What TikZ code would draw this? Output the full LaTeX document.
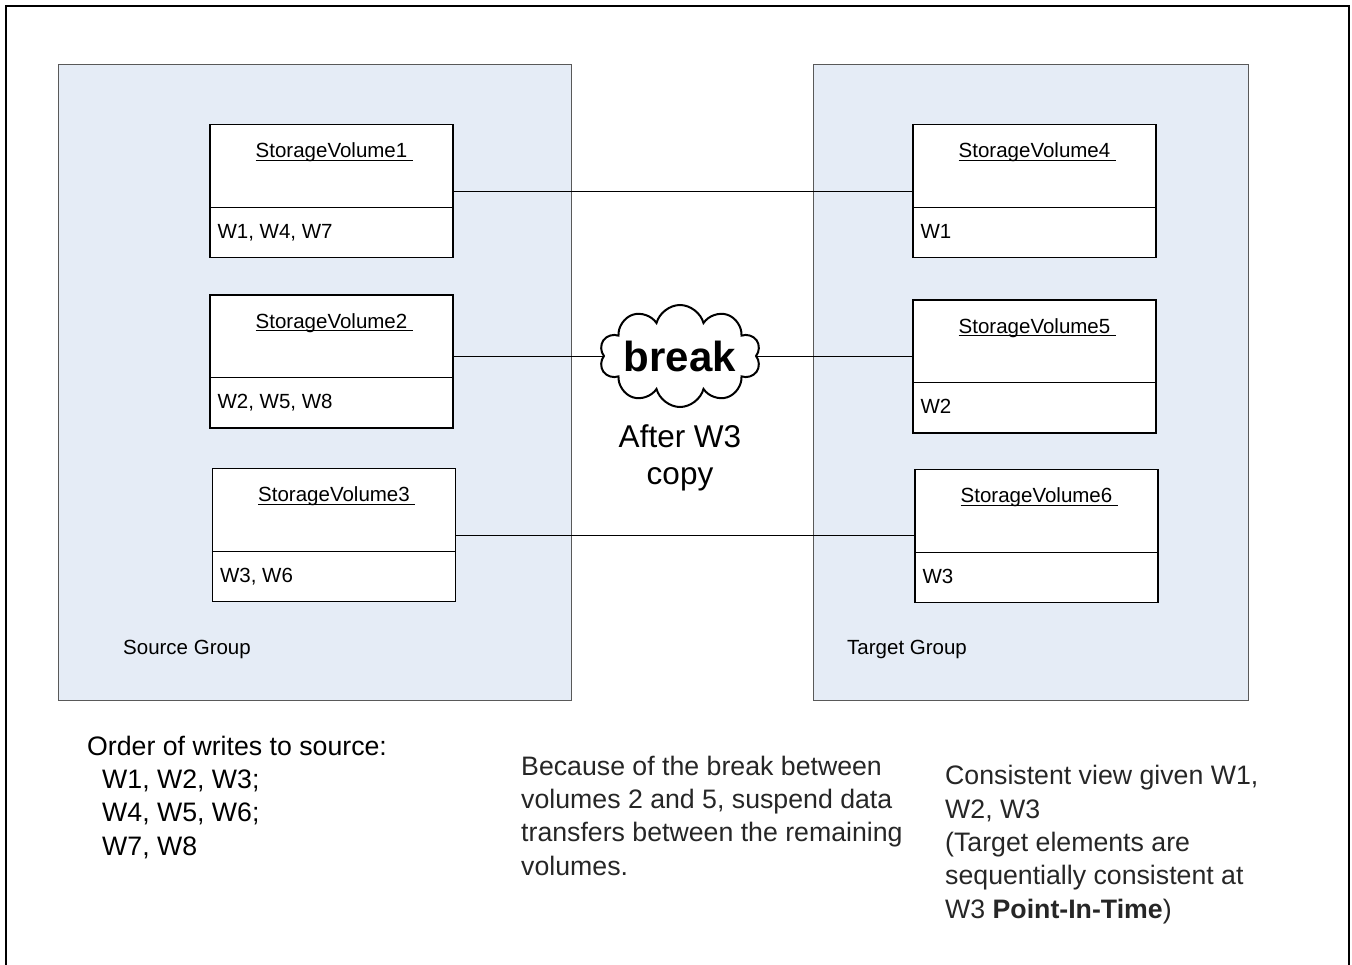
\documentclass[tikz,border=0pt]{standalone}
\usepackage{fontspec}
\setmainfont{Liberation Sans}
\usetikzlibrary{shapes.symbols,calc}

\newlength\ulwd
\newcommand\ulname[1]{\settowidth\ulwd{#1\ }\rlap{\rule[-2.8pt]{\ulwd}{1pt}}#1\ }

\definecolor{groupfill}{RGB}{229,236,246}
\definecolor{notegray}{RGB}{38,38,38}

\tikzset{
  group/.style={draw=black!65, fill=groupfill, line width=1pt, minimum height=636, inner sep=0},
  vol/.style={draw, fill=white, line width=1.2pt, minimum width=243, minimum height=133, inner sep=0},
  small/.style={font=\fontsize{20.5}{24}\selectfont, inner sep=0},
  note/.style={font=\fontsize{26.7}{33.3}\selectfont, align=left, inner sep=0, anchor=base west},
}

\begin{document}
\begin{tikzpicture}[x=1pt, y=-1pt]
  \useasboundingbox (0,0) rectangle (1352,964);
  % frame
  \draw[line width=2.5pt] (6,970) -- (6,6) -- (1349,6) -- (1349,970);
  % groups
  \node[group, minimum width=513] (src) at (314.5,382) {};
  \node[group, minimum width=435] (tgt) at (1030.5,382) {};
  \node[small, anchor=base west] (srcl) at (123,654) {Source Group};
  \node[small, anchor=base west] (tgtl) at (847,654) {Target Group};
  % volumes
  \foreach \n/\x/\y/\w in {1/331.5/191/{W1, W4, W7}, 2/331.5/361.5/{W2, W5, W8}, 3/334/535/{W3, W6},
                           4/1034.5/191/W1, 5/1034.5/366.5/W2, 6/1036.5/536/W3}
  {
    \node[vol] (sv\n) at (\x,\y) {};
    \draw[line width=1.2pt] ([yshift=51pt]sv\n.south west) -- ([yshift=51pt]sv\n.south east);
    \node[small, anchor=base] (t\n) at ([yshift=-34pt]sv\n.north) {\ulname{StorageVolume\n}};
    \node[small, anchor=base west] (w\n) at ([xshift=8pt, yshift=20pt]sv\n.south west) {\w};
  }
  % cloud
  \node[draw, cloud, cloud puffs=10, cloud ignores aspect, minimum width=156, minimum height=102,
        line width=2pt, inner sep=0, font=\bfseries\fontsize{42}{48}\selectfont] (brk) at (680,356) {break};
  \node[anchor=base, align=center, inner sep=0, font=\fontsize{31.5}{37}\selectfont] (aft) at (680,484) {After W3\\copy};
  % links
  \draw[line width=1pt] (sv1) -- (sv4);
  \draw[line width=1pt] (sv2.east |- brk.west) -- (brk.west);
  \draw[line width=1pt] (brk.east) -- (sv5.west |- brk.east);
  \draw[line width=1pt] (sv3.east) -- (sv3.east -| sv6.west);
  % notes (base = last line)
  \node[note] (order) at (87,855) {Order of writes to source:\\\hspace*{15pt}W1, W2, W3;\\\hspace*{15pt}W4, W5, W6;\\\hspace*{15pt}W7, W8};
  \node[note, text=notegray] (because) at (521,875) {Because of the break between\\volumes 2 and 5, suspend data\\transfers between the remaining\\volumes.};
  \node[note, text=notegray] (view) at (945,918) {Consistent view given W1,\\W2, W3\\(Target elements are\\sequentially consistent at\\W3 \textbf{Point-In-Time})};
\end{tikzpicture}
\end{document}
